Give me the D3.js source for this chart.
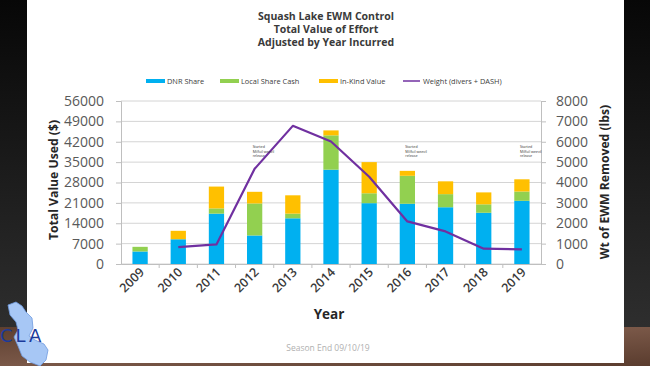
<!DOCTYPE html>
<html><head><meta charset="utf-8">
<script src="https://cdn.jsdelivr.net/npm/d3@7"></script>
<style>html,body{margin:0;padding:0;background:#000;}svg{display:block;}</style>
</head><body>
<script>
const years = ["2009","2010","2011","2012","2013","2014","2015","2016","2017","2018","2019"];
const dnrShare   = [4300, 8500, 17300, 9800, 15700, 32400, 20900, 20700, 19500, 17600, 21700];
const localCash  = [1600, 0, 1800, 11000, 1600, 11800, 3400, 9600, 4500, 2900, 3200];
const inKind     = [0, 2900, 7500, 4000, 6300, 1700, 10700, 1700, 4400, 4100, 4200];
const weightYears = ["2010","2011","2012","2013","2014","2015","2016","2017","2018","2019"];
const weight      = [830, 960, 4670, 6780, 6010, 4280, 2090, 1600, 750, 720];
const leftTicks  = [0,7000,14000,21000,28000,35000,42000,49000,56000];
const rightTicks = [0,1000,2000,3000,4000,5000,6000,7000,8000];
const noteYears = ["2012","2016","2019"];
const noteLines = ["Started", "Milfoil weevil", "release"];
const seriesNames = ["DNR Share","Local Share Cash","In-Kind Value","Weight (divers + DASH)"];
const colors = ["#00b0f0","#92d050","#ffc000","#7030a0"];

(function(){
const W=650,H=366;
const svg=d3.select("body").append("svg").attr("width",W).attr("height",H);
const defs=svg.append("defs");
const g1=defs.append("linearGradient").attr("id","bg").attr("x1",0).attr("y1",0).attr("x2",0).attr("y2",1);
g1.append("stop").attr("offset","0%").attr("stop-color","#070707");
g1.append("stop").attr("offset","100%").attr("stop-color","#2e2e2e");
const g2=defs.append("linearGradient").attr("id","wood").attr("x1",0).attr("y1",0).attr("x2",1).attr("y2",1);
g2.append("stop").attr("offset","0%").attr("stop-color","#5d3f30");
g2.append("stop").attr("offset","50%").attr("stop-color","#7a5848");
g2.append("stop").attr("offset","100%").attr("stop-color","#5a3c2e");
svg.append("rect").attr("width",W).attr("height",327).attr("fill","url(#bg)");
svg.append("rect").attr("y",327).attr("width",W).attr("height",H-327).attr("fill","url(#wood)");
svg.append("rect").attr("x",27).attr("y",0).attr("width",597).attr("height",363).attr("fill","#ffffff");

const font="'Open Sans', 'Liberation Sans', sans-serif";
const title=["Squash Lake EWM Control","Total Value of Effort","Adjusted by Year Incurred"];
svg.append("g").selectAll("text").data(title).join("text")
  .attr("x",326).attr("y",(d,i)=>20+i*13).attr("text-anchor","middle")
  .attr("font-family",font).attr("font-weight","bold").attr("font-size",10.5).attr("fill","#3a3a3a").text(d=>d);

const pL=121,pR=541,pT=101,pB=264;
const x=d3.scaleBand().domain(years).range([pL,pR]).paddingInner(0.6).paddingOuter(0.3);
const xb=d3.scaleBand().domain(years).range([pL,pR]);
const y=d3.scaleLinear().domain([0,56000]).range([pB,pT]);
const y2=d3.scaleLinear().domain([0,8000]).range([pB,pT]);

svg.append("g").selectAll("line").data(leftTicks).join("line")
  .attr("x1",pL).attr("x2",pR).attr("y1",d=>y(d)).attr("y2",d=>y(d))
  .attr("stroke","#d4d4d4").attr("stroke-width",1);

const ax=svg.append("g").attr("transform",`translate(${pL},0)`)
  .call(d3.axisLeft(y).tickValues(leftTicks).tickSize(5).tickPadding(12).tickFormat(d3.format("d")));
ax.select(".domain").attr("stroke","#bfbfbf");
ax.selectAll(".tick line").attr("stroke","#bfbfbf");
ax.selectAll("text").attr("font-family",font).attr("font-size",14).attr("fill","#595959");

const ax2=svg.append("g").attr("transform",`translate(${pR},0)`)
  .call(d3.axisRight(y2).tickValues(rightTicks).tickSize(5).tickPadding(10).tickFormat(d3.format("d")));
ax2.select(".domain").attr("stroke","#bfbfbf");
ax2.selectAll(".tick line").attr("stroke","#bfbfbf");
ax2.selectAll("text").attr("font-family",font).attr("font-size",14).attr("fill","#595959");

const rows=years.map((yr,i)=>({year:yr,dnr:dnrShare[i],local:localCash[i],kind:inKind[i]}));
const stack=d3.stack().keys(["dnr","local","kind"])(rows);
svg.append("g").selectAll("g").data(stack).join("g").attr("fill",(d,i)=>colors[i])
  .selectAll("rect").data(d=>d).join("rect")
  .attr("x",d=>x(d.data.year)).attr("width",x.bandwidth())
  .attr("y",d=>y(d[1])).attr("height",d=>y(d[0])-y(d[1]));

const xa=svg.append("g").attr("transform",`translate(0,${pB})`)
  .call(d3.axisBottom(xb).tickSize(0).tickPadding(0));
xa.select(".domain").attr("stroke","#bfbfbf");
svg.append("g").selectAll("line").data(years.slice(1)).join("line")
  .attr("x1",d=>xb(d)).attr("x2",d=>xb(d)).attr("y1",pB).attr("y2",pB+4).attr("stroke","#bfbfbf");
xa.selectAll("text").attr("font-family",font).attr("font-size",12.5).attr("font-weight","600").attr("fill","#3a3a3a")
  .attr("text-anchor","end").attr("dy",0)
  .attr("transform",d=>`translate(5,9) rotate(-45)`);

const line=d3.line().x((d,i)=>xb(weightYears[i])+xb.bandwidth()/2).y(d=>y2(d));
svg.append("path").datum(weight).attr("d",line).attr("fill","none")
  .attr("stroke",colors[3]).attr("stroke-width",2.2).attr("stroke-linejoin","round");

noteYears.forEach(yr=>{
  svg.append("g").selectAll("text").data(noteLines).join("text")
    .attr("x",xb(yr)+xb.bandwidth()/2-2).attr("y",(d,i)=>148+i*4.5)
    .attr("font-family",font).attr("font-size",3.6).attr("fill","#333").text(d=>d);
});

svg.append("text").attr("transform","translate(58,180) rotate(-90)").attr("text-anchor","middle")
  .attr("font-family",font).attr("font-weight","bold").attr("font-size",12.2).attr("fill","#262626").text("Total Value Used ($)");
svg.append("text").attr("transform","translate(609,182) rotate(-90)").attr("text-anchor","middle")
  .attr("font-family",font).attr("font-weight","bold").attr("font-size",12.2).attr("fill","#262626").text("Wt of EWM Removed (lbs)");
svg.append("text").attr("x",329).attr("y",319).attr("text-anchor","middle")
  .attr("font-family",font).attr("font-weight","bold").attr("font-size",13.5).attr("fill","#262626").text("Year");

const legX=[146,220,319,403];
const leg=svg.append("g");
seriesNames.forEach((n,i)=>{
  if(i<3) leg.append("rect").attr("x",legX[i]).attr("y",79).attr("width",19).attr("height",4).attr("fill",colors[i]);
  else leg.append("line").attr("x1",legX[i]).attr("x2",legX[i]+17).attr("y1",81).attr("y2",81).attr("stroke",colors[i]).attr("stroke-width",1.5);
  leg.append("text").attr("x",legX[i]+(i<3?21:20)).attr("y",83.8).attr("font-family",font).attr("font-size",7.4).attr("fill","#404040").text(n);
});

svg.append("text").attr("x",328).attr("y",351).attr("text-anchor","middle")
  .attr("font-family",font).attr("font-size",8.5).attr("fill","#b0b0b0").text("Season End 09/10/19");

const logo=svg.append("g");
logo.append("path").attr("d","M8,305 L16,302 L22,306 L26,312 L32,318 L33,328 L29,336 L35,340 L44,344 L48,350 L46,360 L40,366 L30,362 L22,356 L18,346 L14,337 L18,330 L16,322 L10,315 Z")
  .attr("fill","#a7c7f5").attr("stroke","#6f9be0").attr("stroke-width",0.8);
logo.append("text").attr("x",0).attr("y",342).attr("font-family","'DejaVu Sans', sans-serif").attr("font-size",18)
  .attr("fill","#1b3a9a").attr("letter-spacing",3).text("CLA");
})();
</script>
</body></html>
